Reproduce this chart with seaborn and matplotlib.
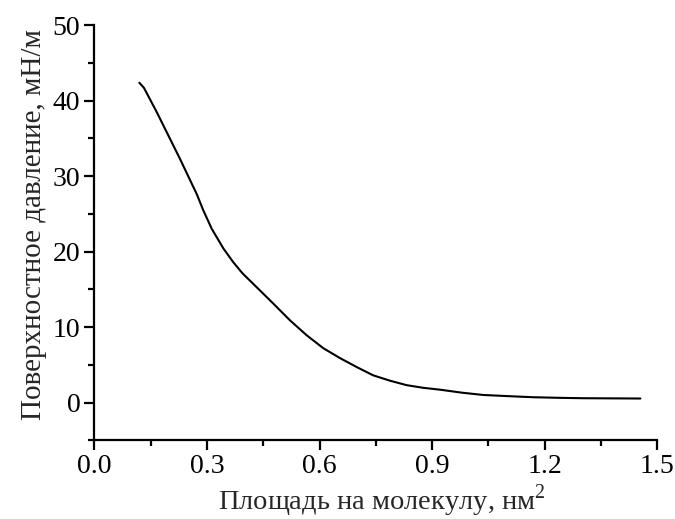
import matplotlib
matplotlib.use("Agg")
import matplotlib.pyplot as plt
from matplotlib.ticker import MultipleLocator, FormatStrFormatter
import seaborn as sns
import pandas as pd

# Surface pressure isotherm: area per molecule (nm^2) vs surface pressure (mN/m)
area = [0.120, 0.132, 0.148, 0.166, 0.184, 0.206, 0.228, 0.250, 0.273, 0.290,
        0.313, 0.344, 0.370, 0.395, 0.432, 0.477, 0.521, 0.566, 0.610, 0.654,
        0.699, 0.743, 0.787, 0.832, 0.876, 0.921, 0.980, 1.036, 1.100, 1.169,
        1.240, 1.302, 1.380, 1.455]
pressure = [42.35, 41.7, 40.2, 38.5, 36.7, 34.5, 32.3, 30.0, 27.6, 25.5,
            23.0, 20.4, 18.6, 17.1, 15.3, 13.1, 10.9, 8.9, 7.2, 5.9,
            4.7, 3.6, 2.9, 2.3, 1.95, 1.7, 1.3, 1.0, 0.85, 0.7,
            0.62, 0.57, 0.55, 0.53]

x_label = "Площадь на молекулу, нм$^2$"
y_label = "Поверхностное давление, мН/м"

sns.set_theme(style="ticks")
plt.rcParams["font.family"] = ["Liberation Serif", "DejaVu Serif"]
plt.rcParams["mathtext.fontset"] = "custom"
plt.rcParams["mathtext.rm"] = "Liberation Serif"

df = pd.DataFrame({"area": area, "pressure": pressure})

fig = plt.figure(figsize=(6.75, 5.19), dpi=100)
ax = fig.add_axes([0.1397, 0.1517, 0.8341, 0.8001])

sns.lineplot(data=df, x="area", y="pressure", ax=ax, color="black",
             linewidth=1.5, estimator=None, sort=False)

ax.set_xlim(0.0, 1.5)
ax.set_ylim(-5, 50)
ax.xaxis.set_major_locator(MultipleLocator(0.3))
ax.xaxis.set_minor_locator(MultipleLocator(0.15))
ax.xaxis.set_major_formatter(FormatStrFormatter("%.1f"))
ax.yaxis.set_major_locator(MultipleLocator(10))
ax.yaxis.set_minor_locator(MultipleLocator(5))

for side in ("top", "right"):
    ax.spines[side].set_visible(False)
for side in ("left", "bottom"):
    ax.spines[side].set_linewidth(1.6)
    ax.spines[side].set_color("black")

ax.tick_params(which="major", direction="out", length=7, width=1.6,
               labelsize=20, colors="black", pad=3)
ax.tick_params(which="minor", direction="out", length=4.5, width=1.6,
               colors="black")

ax.set_xlabel(x_label, fontsize=20.5)
ax.set_ylabel(y_label, fontsize=21)
ax.xaxis.label.set_va("baseline")
ax.xaxis.set_label_coords(0.51, -0.1680)
ax.yaxis.label.set_va("baseline")
ax.yaxis.set_label_coords(-0.0947, 0.52)

fig.savefig("out.png", dpi=100, facecolor="white")
